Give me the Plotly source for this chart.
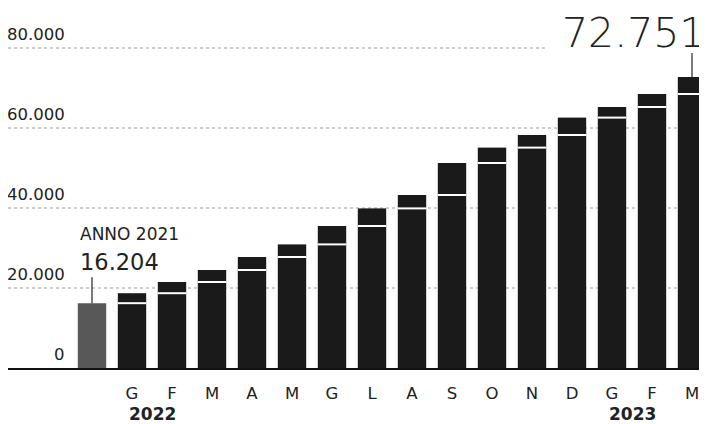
import plotly.graph_objects as go

# ---- data ----
month_labels = ["G", "F", "M", "A", "M", "G", "L", "A", "S", "O", "N", "D", "G", "F", "M"]
totals_2021 = 16204
cumulative = [18700, 21500, 24500, 27750, 30900, 35500, 39900, 43250,
              51250, 55100, 58250, 62600, 65250, 68500, 72751]
year_labels = ["2022", "2023"]
year_positions = [1.5, 13.5]        # between first two months of each year
y_ticks = [0, 20000, 40000, 60000, 80000]
y_tick_text = ["0", "20.000", "40.000", "60.000", "80.000"]
label_2021_title = "ANNO 2021"
label_2021_value = "16.204"
label_last_value = "72.751"

# ---- derived ----
all_totals = [totals_2021] + cumulative
n = len(all_totals)
xs = list(range(n))
prev = all_totals[:-1]
increments = [c - p for c, p in zip(cumulative, prev)]
month_x = xs[1:]

BAR_W = 0.71
PX_PER_UNIT = 40.0
BLACK = "#1a1a1a"
GREY = "#585858"
TXT = "#222222"
FONT = "DejaVu Sans"

fig = go.Figure()

# 2021 bar
fig.add_trace(go.Bar(x=[xs[0]], y=[totals_2021], width=BAR_W,
                     marker=dict(color=GREY, line=dict(width=0)), hoverinfo="skip"))
# monthly bars: lower part (previous total) and increment stacked on top
fig.add_trace(go.Bar(x=month_x, y=prev, width=BAR_W,
                     marker=dict(color=BLACK, line=dict(width=0)), hoverinfo="skip"))
fig.add_trace(go.Bar(x=month_x, y=increments, base=prev, width=BAR_W,
                     marker=dict(color=BLACK, line=dict(width=0)), hoverinfo="skip"))
# white separators at previous total
fig.add_trace(go.Scatter(x=month_x, y=prev, mode="markers",
                         marker=dict(symbol="line-ew", size=BAR_W * PX_PER_UNIT / 1.4,
                                     line=dict(color="white", width=2)),
                         hoverinfo="skip", cliponaxis=False))

shapes = []
# dotted gridlines
for v in y_ticks[1:]:
    x1 = 1 if v != y_ticks[-1] else 0.768
    shapes.append(dict(type="line", xref="paper", yref="y", x0=0, x1=x1, y0=v, y1=v,
                       line=dict(color="#999999", width=1, dash="dot"), layer="below"))
# leader lines
shapes.append(dict(type="line", xref="x", yref="y", ysizemode="pixel",
                   yanchor=totals_2021, x0=xs[0], x1=xs[0], y0=0, y1=26,
                   line=dict(color=TXT, width=1.2)))
shapes.append(dict(type="line", xref="x", yref="y", ysizemode="pixel",
                   yanchor=cumulative[-1], x0=xs[-1], x1=xs[-1], y0=0, y1=24,
                   line=dict(color=TXT, width=1.2)))

annotations = []
for v, t in zip(y_ticks, y_tick_text):
    annotations.append(dict(x=-0.62, y=v, xref="x", yref="y", text=t, showarrow=False,
                            xanchor="right", yanchor="bottom", yshift=2,
                            font=dict(family=FONT, size=16.5, color=TXT)))
annotations.append(dict(x=xs[0] - BAR_W / 2, y=totals_2021, xref="x", yref="y",
                        text=label_2021_title, showarrow=False, xanchor="left",
                        yanchor="bottom", yshift=57,
                        font=dict(family=FONT, size=17, color=TXT)))
annotations.append(dict(x=xs[0] - BAR_W / 2, y=totals_2021, xref="x", yref="y",
                        text=label_2021_value, showarrow=False, xanchor="left",
                        yanchor="bottom", yshift=26,
                        font=dict(family=FONT, size=22.5, color=TXT)))
annotations.append(dict(x=xs[-1] + BAR_W / 2, y=cumulative[-1], xref="x", yref="y",
                        text=label_last_value, showarrow=False, xanchor="right",
                        yanchor="bottom", yshift=19, borderpad=0,
                        font=dict(family=FONT, size=41, color=TXT, weight=200)))
for yx, yl in zip(year_positions, year_labels):
    annotations.append(dict(x=yx, y=0, xref="x", yref="y", text="<b>" + yl + "</b>",
                            showarrow=False, xanchor="center", yanchor="middle",
                            yshift=-46, font=dict(family=FONT, size=17, color=TXT)))

fig.update_layout(
    width=699, height=415,
    margin=dict(l=0, r=0, t=0, b=55),
    paper_bgcolor="white", plot_bgcolor="white",
    barmode="overlay", showlegend=False,
    shapes=shapes, annotations=annotations,
    xaxis=dict(range=[-2.1, 15.375], tickvals=month_x, ticktext=month_labels,
               showgrid=False, zeroline=False, showline=True, linecolor="#111111",
               linewidth=1.6, ticks="", ticklabelstandoff=9,
               tickfont=dict(family=FONT, size=16.5, color=TXT)),
    yaxis=dict(range=[0, 90000], showgrid=False, zeroline=False, showticklabels=False,
               showline=False, fixedrange=True),
)

fig.write_html("out.html")
